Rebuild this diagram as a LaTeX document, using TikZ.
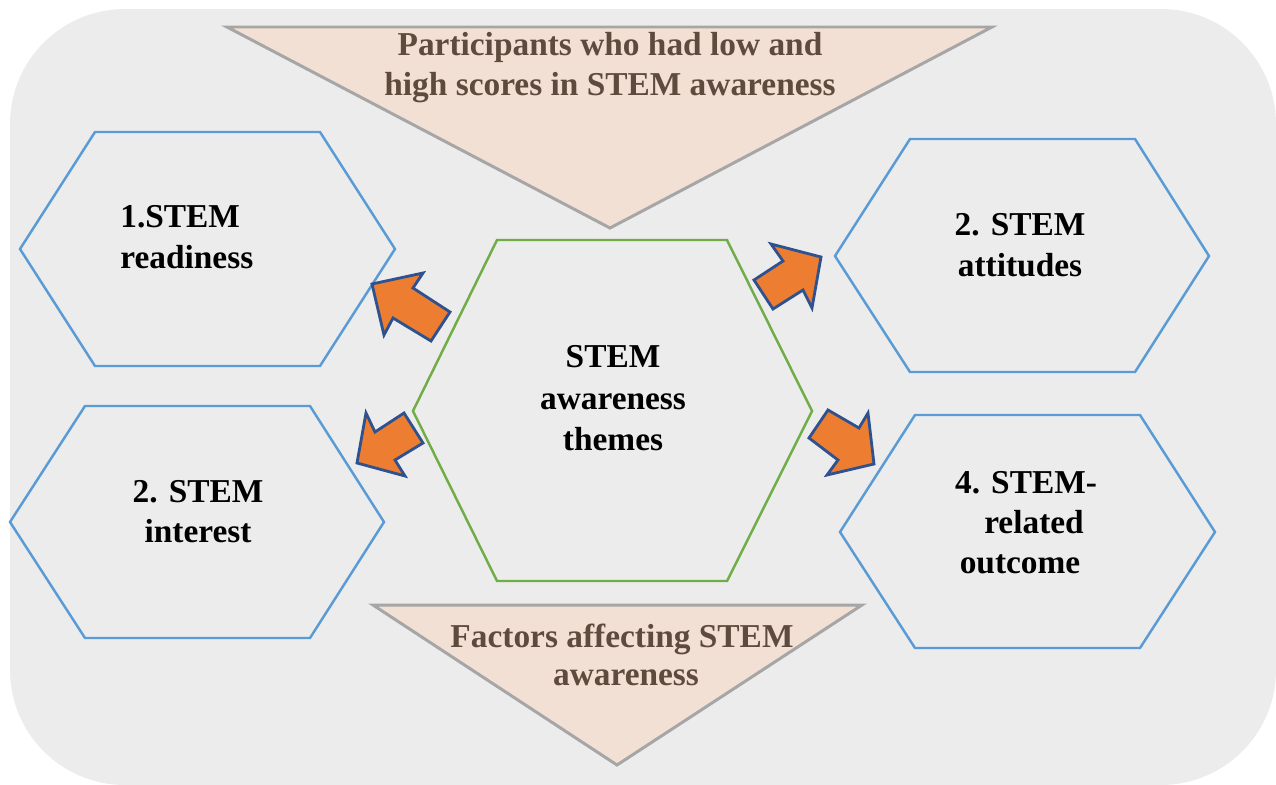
\documentclass[tikz,border=0pt]{standalone}
\usepackage{fontspec}
\setmainfont{Liberation Serif}
\definecolor{bgc}{HTML}{ECECEC}
\definecolor{trifill}{HTML}{F2E0D5}
\definecolor{tridraw}{HTML}{A6A6A6}
\definecolor{hexblue}{HTML}{5B9BD5}
\definecolor{hexgreen}{HTML}{70AD47}
\definecolor{arrfill}{HTML}{ED7D31}
\definecolor{arrdraw}{HTML}{2F528F}
\definecolor{tritext}{HTML}{5E4B3E}
\tikzset{
  tri/.style={fill=trifill, draw=tridraw, line width=1.7pt, line join=miter},
  bluehex/.style={draw=hexblue, line width=1.4pt, line join=miter},
  greenhex/.style={draw=hexgreen, line width=1.4pt, line join=miter},
  blockarrow/.style={fill=arrfill, draw=arrdraw, line width=1.6pt, line join=miter},
  lbl/.style={font=\fontsize{19pt}{22.8pt}\selectfont\bfseries, inner sep=0pt, anchor=base, text=black},
  lblL/.style={lbl, anchor=base west},
  trilbl/.style={lbl, text=tritext},
}
\begin{document}
\begin{tikzpicture}[x=0.02cm, y=-0.02cm]
\useasboundingbox (0,0) rectangle (1276,785);
% background
\fill[bgc, rounded corners=2.3cm] (10,9) rectangle (1276,785);

% triangles
\draw[tri] (227,27) -- (992,27) -- (610,228) -- cycle;
\draw[tri] (373,605) -- (862,605) -- (617,765) -- cycle;

% hexagons
\draw[bluehex] (95,132) -- (320,132) -- (395,249) -- (320,366) -- (95,366) -- (20,249) -- cycle;
\draw[bluehex] (85,406) -- (310,406) -- (384,522) -- (310,638) -- (85,638) -- (10,522) -- cycle;
\draw[bluehex] (910,139) -- (1135,139) -- (1209,256) -- (1135,372) -- (910,372) -- (835,256) -- cycle;
\draw[bluehex] (915,415) -- (1140,415) -- (1215,532) -- (1140,648) -- (915,648) -- (840,532) -- cycle;
\draw[greenhex] (497,240) -- (727,240) -- (812,411) -- (727,581) -- (497,581) -- (413,411) -- cycle;

% block arrows
\draw[blockarrow] (372,284) -- (423,273) -- (413,288) -- (450,312) -- (431,341) -- (393,318) -- (384,335) -- cycle;
\draw[blockarrow] (357,463) -- (366,413) -- (375,432) -- (404,413) -- (423,443) -- (395,460) -- (405,476) -- cycle;
\draw[blockarrow] (821,257) -- (771,244) -- (783,261) -- (754,280) -- (773,309) -- (803,290) -- (812,308) -- cycle;
\draw[blockarrow] (874,464) -- (868,413) -- (859,428) -- (828,410) -- (809,438) -- (838,460) -- (827,475) -- cycle;

% triangle texts
\node[trilbl] (t1a) at (610,55) {Participants who had low and};
\node[trilbl] (t1b) at (610,95) {high scores in STEM awareness};
\node[trilbl] (t2a) at (622,647) {Factors affecting STEM};
\node[trilbl] (t2b) at (626,685) {awareness};

% hexagon texts
\node[lblL] (r1) at (120,227) {1.STEM};
\node[lblL] (r2) at (120,268) {readiness};

\node[lbl] (i1) at (198,502) {2. STEM};
\node[lbl] (i2) at (198,542) {interest};

\node[lbl] (a1) at (1020,235) {2. STEM};
\node[lbl] (a2) at (1020,276) {attitudes};

\node[lbl] (o1) at (1026,493) {4. STEM-};
\node[lbl] (o2) at (1034,533) {related};
\node[lbl] (o3) at (1020,573) {outcome};

\node[lbl] (c1) at (613,367) {STEM};
\node[lbl] (c2) at (613,409) {awareness};
\node[lbl] (c3) at (613,450) {themes};
\end{tikzpicture}
\end{document}
